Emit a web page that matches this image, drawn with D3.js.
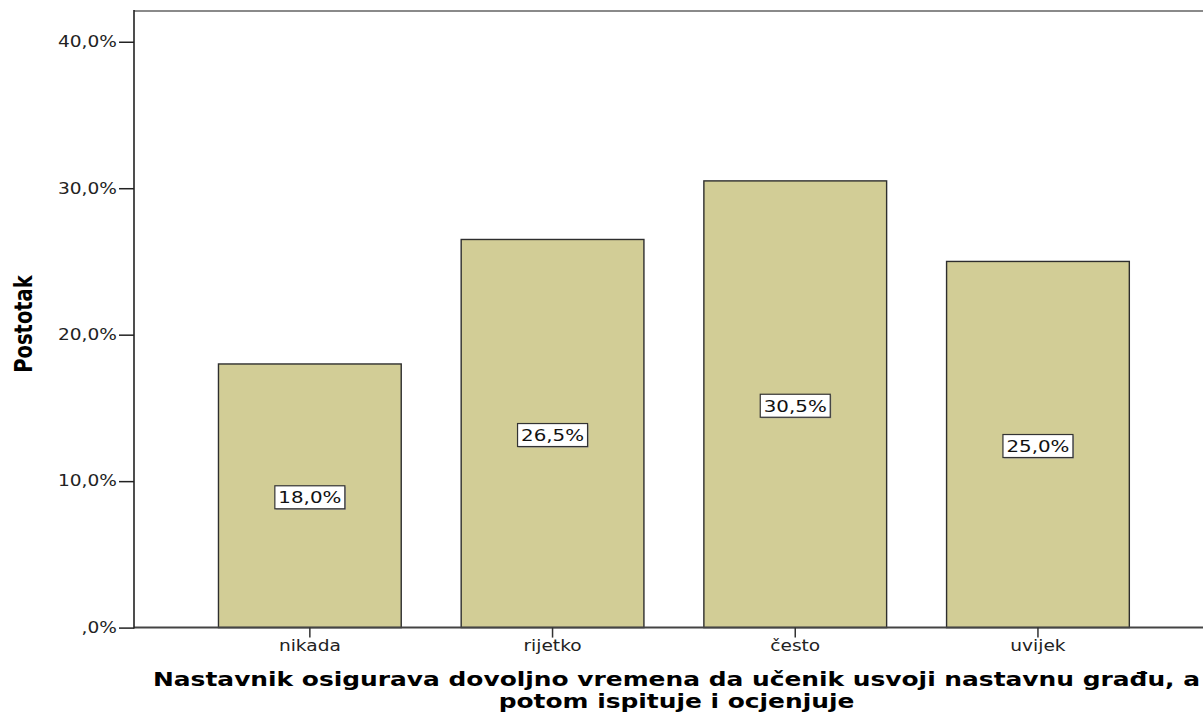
<!DOCTYPE html>
<html>
<head>
<meta charset="utf-8">
<script src="https://cdn.jsdelivr.net/npm/d3@7"></script>
<style>
  html, body { margin: 0; padding: 0; background: #fff; }
  svg { display: block; }
</style>
</head>
<body>
<svg id="chart" width="1203" height="715"></svg>
<script>
// ---- data ----
const categories = ["nikada", "rijetko", "često", "uvijek"];
const percentages = [18.0, 26.5, 30.5, 25.0];
const yTickValues = [0, 10, 20, 30, 40];
const yTickLabels = [",0%", "10,0%", "20,0%", "30,0%", "40,0%"];
const valueLabels = ["18,0%", "26,5%", "30,5%", "25,0%"];
const yAxisTitle = "Postotak";
const xAxisTitleLines = [
  "Nastavnik osigurava dovoljno vremena da učenik usvoji nastavnu građu, a",
  "potom ispituje i ocjenjuje"
];

// ---- layout ----
const plot = { left: 134, right: 1203, top: 11, bottom: 627.6 };
const S = 1.24; // horizontal glyph stretch
const FONT = "'DejaVu Sans', Verdana, sans-serif";

const svg = d3.select("#chart");

const x = d3.scaleBand()
  .domain(categories)
  .range([188.5, 1159.3])
  .paddingInner(0.247)
  .paddingOuter(0.1235);

const y = d3.scaleLinear()
  .domain([0, 42.1])
  .range([plot.bottom, plot.top]);

// bars
svg.append("g").selectAll("rect")
  .data(categories)
  .join("rect")
  .attr("x", d => x(d))
  .attr("y", (d, i) => y(percentages[i]))
  .attr("width", x.bandwidth())
  .attr("height", (d, i) => y(0) - y(percentages[i]))
  .attr("fill", "#d2cd96")
  .attr("stroke", "#2e2e2e")
  .attr("stroke-width", 1.4);

// frame lines
svg.append("line")
  .attr("x1", plot.left).attr("x2", plot.right)
  .attr("y1", plot.top).attr("y2", plot.top)
  .attr("stroke", "#8a8a8a").attr("stroke-width", 2);
svg.append("line")
  .attr("x1", plot.left).attr("x2", plot.right)
  .attr("y1", plot.bottom).attr("y2", plot.bottom)
  .attr("stroke", "#444").attr("stroke-width", 2);
svg.append("line")
  .attr("x1", plot.left).attr("x2", plot.left)
  .attr("y1", plot.top - 1).attr("y2", plot.bottom + 1)
  .attr("stroke", "#222").attr("stroke-width", 1.6);

// y axis
const yAxis = d3.axisLeft(y)
  .tickValues(yTickValues)
  .tickFormat((d, i) => yTickLabels[i])
  .tickSize(15)
  .tickPadding(2);
const gy = svg.append("g")
  .attr("transform", `translate(${plot.left},0)`)
  .call(yAxis);
gy.select(".domain").remove();
gy.selectAll(".tick line").attr("stroke", "#222").attr("stroke-width", 1.5);
gy.selectAll(".tick text")
  .attr("font-family", FONT)
  .attr("font-size", 15)
  .attr("fill", "#222")
  .attr("x", 0)
  .attr("transform", `translate(-17,0) scale(${S},1)`);

// x axis
const xAxis = d3.axisBottom(x)
  .tickSize(10)
  .tickPadding(3);
const gx = svg.append("g")
  .attr("transform", `translate(0,${plot.bottom})`)
  .call(xAxis);
gx.select(".domain").remove();
gx.selectAll(".tick line").attr("stroke", "#333").attr("stroke-width", 1.5);
gx.selectAll(".tick text")
  .attr("font-family", FONT)
  .attr("font-size", 15)
  .attr("fill", "#222")
  .attr("transform", `scale(${S},1)`);

// value labels
const lab = svg.append("g").selectAll("g")
  .data(categories)
  .join("g")
  .attr("transform", (d, i) =>
    `translate(${x(d) + x.bandwidth() / 2},${y(percentages[i] / 2) + 1.5})`);
lab.append("rect")
  .attr("x", -34).attr("y", -10.5).attr("width", 70).attr("height", 23)
  .attr("fill", "#9a9a9a");
lab.append("rect")
  .attr("x", -35).attr("y", -11.5).attr("width", 70).attr("height", 23)
  .attr("fill", "#fff").attr("stroke", "#333").attr("stroke-width", 1.2);
lab.append("text")
  .attr("text-anchor", "middle")
  .attr("dy", "0.36em")
  .attr("font-family", FONT)
  .attr("font-size", 16)
  .attr("fill", "#111")
  .attr("transform", `scale(${S},1)`)
  .text((d, i) => valueLabels[i]);

// y axis title
svg.append("text")
  .attr("transform", `translate(32,324) scale(${S},1) rotate(-90)`)
  .attr("text-anchor", "middle")
  .attr("font-family", FONT)
  .attr("font-weight", "bold")
  .attr("font-size", 19.5)
  .attr("fill", "#000")
  .text(yAxisTitle);

// x axis title (two lines)
const titleCx = 676.5;
const titleSize = 18.8;
const lineGap = 22.2;
const titles = svg.append("g").selectAll("text")
  .data(xAxisTitleLines)
  .join("text")
  .attr("text-anchor", "middle")
  .attr("font-family", FONT)
  .attr("font-weight", "bold")
  .attr("font-size", titleSize)
  .attr("fill", "#000")
  .text(d => d);
const natural = titles.nodes()[0].getComputedTextLength();
const ST = 1047 / natural;
titles.attr("transform", (d, i) =>
  `translate(${titleCx},${686 + i * lineGap}) scale(${ST},1)`);
</script>
</body>
</html>
